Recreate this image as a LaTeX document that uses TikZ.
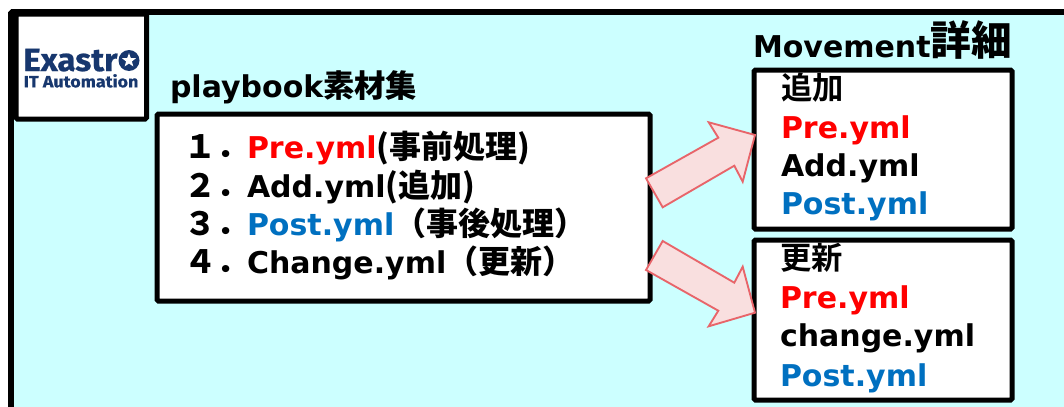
\documentclass[tikz,border=0pt]{standalone}
\usetikzlibrary{shapes.geometric}
\usepackage{fontspec}
\setmainfont{DejaVu Sans}
\newfontfamily\cjk{Noto Sans CJK JP Bold}
\newfontfamily\logofont{Fira Sans Bold}[FakeStretch=1.04,FakeBold=0.6]
\newfontfamily\logosmall{Fira Sans Bold}[FakeStretch=1.1,FakeBold=0.6]
\definecolor{bgc}{HTML}{CCFFFF}
\definecolor{redt}{HTML}{FF0000}
\definecolor{bluet}{HTML}{0070C0}
\definecolor{navy}{HTML}{17376E}
\definecolor{arrowf}{HTML}{F9DFDF}
\definecolor{arrowd}{HTML}{E8656A}
\newcommand{\J}[1]{{\cjk\fontsize{24}{26}\selectfont #1}}
\tikzset{
  x=0.75pt,y=-0.75pt,
  frame/.style={draw=black,line width=3.75pt,rounded corners=1pt},
  whitebox/.style={frame,fill=white},
  txt/.style={anchor=base west,inner sep=0pt,outer sep=0pt,font=\bfseries\fontsize{22.5}{26}\selectfont},
  jtxt/.style={anchor=base west,inner sep=0pt,outer sep=0pt,font=\cjk\fontsize{23.5}{26}\selectfont},
  blockarrow/.style={draw=arrowd,fill=arrowf,line width=1.4pt,line join=miter},
}
\begin{document}
\begin{tikzpicture}
\useasboundingbox (0,0) rectangle (1064,407);
\begin{scope}
\clip (0,0) rectangle (1064,407);
\draw[frame,fill=bgc,line width=4.2pt] (11,12) rectangle (1080,430);
\draw[whitebox] (16,14) rectangle (146.5,119);
\draw[whitebox] (157,114) rectangle (650,301);
\draw[whitebox] (754,70) rectangle (1012,229);
\draw[whitebox] (754,240) rectangle (1012,400);
\end{scope}
% logo
\node[anchor=base west,inner sep=0pt,text=navy,font=\logofont\fontsize{24}{26}\selectfont] (logoa) at (23,71) {Exastr};
\node[anchor=base west,inner sep=0pt,text=navy,font=\logosmall\fontsize{12.2}{12.2}\selectfont] (logob) at (23.5,87.3) {IT Automation};
\fill[navy] (129,60.5) circle (10.5);
\node[star,star points=5,star point ratio=2.4,fill=white,inner sep=0pt,minimum size=11pt] (logostar) at (129,60.5) {};
% titles
\node[txt] (t1) at (170,97) {playbook{\cjk\fontsize{23.5}{26}\selectfont 素材集}};
\node[txt] (t2) at (753,57.5) {Movement{\cjk\fontsize{30.5}{32}\selectfont\raisebox{1.2pt}{詳細}}};
% main list
\node[txt] (l1) at (184,158) {\J{１．}};
\node[txt] (l1b) at (247,158) {\textcolor{redt}{Pre.yml}\J{(事前処理)}};
\node[txt] (l2) at (184,197) {\J{２．}};
\node[txt] (l2b) at (247,197) {Add.yml\J{(追加)}};
\node[txt] (l3) at (184,235) {\J{３．}};
\node[txt] (l3b) at (247,235) {\textcolor{bluet}{Post.yml}\J{（事後処理）}};
\node[txt] (l4) at (184,273) {\J{４．}};
\node[txt] (l4b) at (247,273) {Change.yml\J{（更新）}};
% right box 1
\node[jtxt] (a0) at (781,99) {追加};
\node[txt,text=redt] (a1) at (781,138) {Pre.yml};
\node[txt] (a2) at (781,176) {Add.yml};
\node[txt,text=bluet] (a3) at (781,214) {Post.yml};
% right box 2
\node[jtxt] (b0) at (780,269) {更新};
\node[txt,text=redt] (b1) at (780,308) {Pre.yml};
\node[txt] (b2) at (780,346) {change.yml};
\node[txt,text=bluet] (b3) at (780,386) {Post.yml};
% arrows
\draw[blockarrow] (646,178.3) -- (718.3,137.7) -- (708.7,122.3) -- (755,135) -- (742.7,181.7) -- (734.3,165.7) -- (662.7,207.3) -- cycle;
\draw[blockarrow] (646,270) -- (662.7,241) -- (734.3,282.7) -- (742.7,266.7) -- (755,312.7) -- (708.7,326.3) -- (718.3,310.7) -- cycle;
\end{tikzpicture}
\end{document}
